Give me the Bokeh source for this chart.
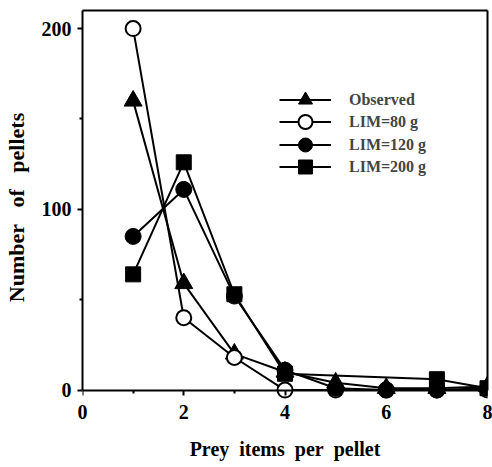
from bokeh.plotting import figure
from bokeh.models import Range1d, FixedTicker, LinearAxis, Legend, LegendItem
from bokeh.embed import file_html
from bokeh.resources import INLINE

# ---- data ----
prey_items = [1, 2, 3, 4, 5, 6, 7, 8]
observed = [160, 59, 20, 10, 4, 1, 1, 2]
lim80 = [200, 40, 18, 0, 0, 0, 0, 0]
lim120 = [85, 111, 52, 11, 1, 0, 0, 1]
lim200_items = [1, 2, 3, 4, 7, 8]
lim200 = [64, 126, 53, 9, 6, 1]

x_ticks = [0, 2, 4, 6, 8]
x_minor = [1, 3, 5, 7]
y_ticks = [0, 100, 200]
y_minor = [50, 150]

FONT = "Liberation Serif"
NB = "\u00a0"

p = figure(width=492, height=467, output_backend="svg", toolbar_location=None,
           x_range=Range1d(0, 8), y_range=Range1d(-8, 210),
           min_border_left=81, min_border_right=5, min_border_top=10,
           min_border_bottom=63)
p.grid.visible = False
p.outline_line_color = None
p.background_fill_color = "white"
p.border_fill_color = "white"


def style_lines(ax):
    ax.axis_line_width = 2
    ax.axis_line_color = "black"
    ax.major_tick_line_width = 2
    ax.major_tick_line_color = "black"
    ax.minor_tick_line_width = 2
    ax.minor_tick_line_color = "black"
    ax.major_tick_in = 0
    ax.major_tick_out = 5
    ax.minor_tick_in = 0
    ax.minor_tick_out = 3


def style_text(ax, title_size="20px"):
    ax.major_label_text_font = FONT
    ax.major_label_text_font_style = "bold"
    ax.major_label_text_font_size = "20px"
    ax.major_label_text_color = "black"
    ax.axis_label_text_font = FONT
    ax.axis_label_text_font_style = "bold"
    ax.axis_label_text_font_size = title_size
    ax.axis_label_text_color = "black"


def hide_text(ax):
    ax.major_label_text_color = None
    ax.axis_label_text_color = None
    ax.major_label_standoff = 0
    ax.axis_label_standoff = 0


# bottom axis: labels and title only (at the frame bottom)
xa = p.xaxis[0]
style_text(xa)
xa.ticker = FixedTicker(ticks=x_ticks, minor_ticks=x_minor)
xa.axis_line_color = None
xa.major_tick_line_color = None
xa.minor_tick_line_color = None
xa.major_tick_out = 0
xa.major_tick_in = 0
xa.minor_tick_out = 0
xa.minor_tick_in = 0
xa.major_label_standoff = 0
xa.axis_label = "Prey" + NB + " items" + NB + " per" + NB + " pellet"
xa.axis_label_standoff = 16

# axis line and ticks at y = 0
x_line = LinearAxis(ticker=FixedTicker(ticks=x_ticks, minor_ticks=x_minor),
                    bounds=(0, 8))
style_lines(x_line)
hide_text(x_line)
x_line.fixed_location = 0
p.add_layout(x_line, "below")

ya = p.yaxis[0]
style_lines(ya)
style_text(ya, "22px")
ya.bounds = (0, 210)
ya.ticker = FixedTicker(ticks=y_ticks, minor_ticks=y_minor)
ya.major_label_standoff = 6
ya.axis_label = "Number" + NB + NB + " of" + NB + NB + " pellets"
ya.axis_label_standoff = 10


def border_axis(bounds):
    ax = LinearAxis(ticker=FixedTicker(ticks=[]), bounds=bounds)
    ax.axis_line_width = 2
    ax.axis_line_color = "black"
    ax.major_tick_out = 0
    ax.major_tick_in = 0
    ax.minor_tick_out = 0
    ax.minor_tick_in = 0
    hide_text(ax)
    return ax


p.add_layout(border_axis((0, 8)), "above")
p.add_layout(border_axis((0, 210)), "right")

l1 = p.line(prey_items, observed, line_color="black", line_width=2)
s1 = p.scatter(prey_items, observed, marker="triangle", size=18,
               fill_color="black", line_color="black")
l2 = p.line(prey_items, lim80, line_color="black", line_width=2)
s2 = p.scatter(prey_items, lim80, marker="circle", size=15,
               fill_color="white", line_color="black", line_width=2)
l3 = p.line(prey_items, lim120, line_color="black", line_width=2)
s3 = p.scatter(prey_items, lim120, marker="circle", size=16,
               fill_color="black", line_color="black")
l4 = p.line(lim200_items, lim200, line_color="black", line_width=2)
s4 = p.scatter(lim200_items, lim200, marker="square", size=15,
               fill_color="black", line_color="black")

entries = [("Observed", [l1, s1]), ("LIM=80 g", [l2, s2]),
           ("LIM=120 g", [l3, s3]), ("LIM=200 g", [l4, s4])]
legend_bottoms = [287, 265, 242, 220]
for (label, rends), yb in zip(entries, legend_bottoms):
    lg = Legend(items=[LegendItem(label=label, renderers=rends)],
                location=(197, yb), glyph_width=52, glyph_height=35,
                label_height=35, spacing=0, padding=0, margin=0,
                border_line_color=None, background_fill_alpha=0,
                label_text_font=FONT, label_text_font_style="bold",
                label_text_font_size="16px", label_standoff=18)
    p.add_layout(lg)

open("out.html", "w").write(file_html(p, INLINE))
